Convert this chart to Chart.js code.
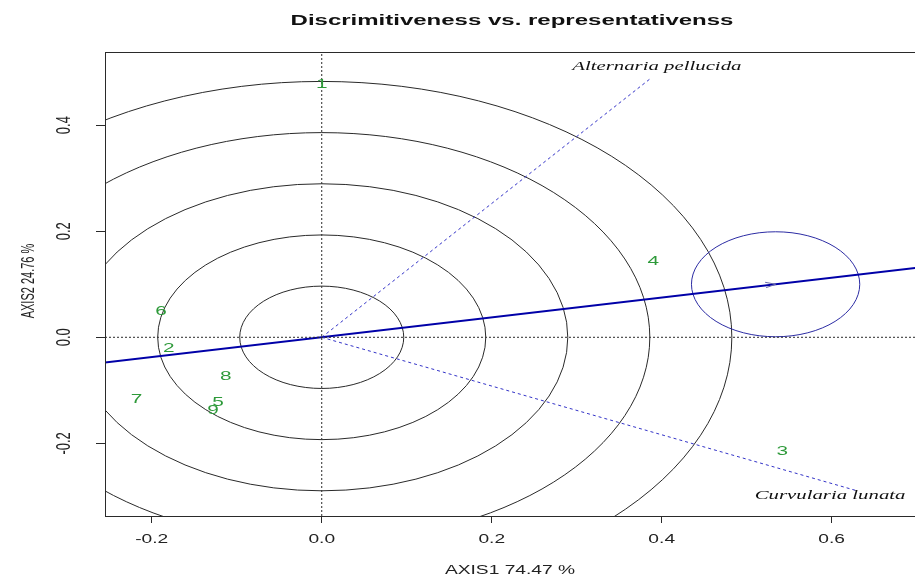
<!DOCTYPE html>
<html>
<head>
<meta charset="utf-8">
<script src="https://cdn.jsdelivr.net/npm/chart.js@4.4.1/dist/chart.umd.min.js"></script>
<style>
  html, body { margin: 0; padding: 0; background: #ffffff; }
  canvas { display: block; }
</style>
</head>
<body>
<canvas id="biplot" width="915" height="577"></canvas>
<script>
// ---------------- data ----------------
const genotypeLabels = ["1", "2", "3", "4", "5", "6", "7", "8", "9"];
const genotypeX = [0.000, -0.180, 0.542, 0.390, -0.122, -0.189, -0.218, -0.113, -0.128];
const genotypeY = [0.476, -0.021, -0.216, 0.143, -0.123, 0.048, -0.118, -0.073, -0.137];

const envNames = ["Alternaria pellucida", "Curvularia lunata"];
const envX = [0.386, 0.631];
const envY = [0.487, -0.290];

// average environment (arrow on the AEA line) and its circle
const avgEnv = [0.534, 0.100];
const avgCircleRadius = 0.099;

// concentric circles around the origin
const circleRadii = [0.0965, 0.193, 0.2895, 0.386, 0.4825];

const xTicks = [-0.2, 0.0, 0.2, 0.4, 0.6];
const yTicks = [-0.2, 0.0, 0.2, 0.4];
const xRange = [-0.255, 0.698];
const yRange = [-0.337, 0.538];

const titleText = "Discrimitiveness vs. representativenss";
const xTitle = "AXIS1 74.47 %";
const yTitle = "AXIS2 24.76 %";

// ---------------- styles ----------------
const STRETCH = 1.6;           // the picture is stretched horizontally
const SANS = '"Liberation Sans", Arial, sans-serif';
const SERIF = '"Liberation Serif", "Times New Roman", serif';
const GREEN = "#2e9a3a";
const ENV_BLUE = "#3434c8";
const AEA_BLUE = "#0000a8";
const INK = "#2a2a2a";

function stretchedText(ctx, text, x, y, opts) {
    ctx.save();
    ctx.translate(x, y);
    ctx.scale(STRETCH, 1);
    if (opts.rotate) ctx.rotate(opts.rotate);
    ctx.font = opts.font;
    ctx.fillStyle = opts.color || "#000";
    ctx.textAlign = "center";
    ctx.textBaseline = "middle";
    ctx.fillText(text, 0, 0);
    ctx.restore();
}

const genotypePoints = genotypeX.map((x, i) => ({ x: x, y: genotypeY[i] }));

const envDatasets = envNames.map((name, i) => ({
    label: name,
    data: [{ x: 0, y: 0 }, { x: envX[i], y: envY[i] }],
    showLine: true,
    borderColor: ENV_BLUE,
    borderWidth: 1,
    borderDash: [3, 3],
    pointRadius: 0
}));

// AEA line: through origin and the average environment, both directions
const aeaLine = [-1, 1.6].map(t => ({ x: avgEnv[0] * t, y: avgEnv[1] * t }));

const biplotPlugin = {
    id: "biplotExtras",
    beforeDraw(chart) {
        const ctx = chart.ctx;
        ctx.save();
        ctx.fillStyle = "#ffffff";
        ctx.fillRect(0, 0, chart.width, chart.height);
        ctx.restore();
    },
    beforeDatasetsDraw(chart) {
        const ctx = chart.ctx;
        const xs = chart.scales.x;
        const ys = chart.scales.y;
        const area = chart.chartArea;
        const cx = xs.getPixelForValue(0);
        const cy = ys.getPixelForValue(0);

        ctx.save();
        ctx.beginPath();
        ctx.rect(area.left, area.top, area.right - area.left, area.bottom - area.top);
        ctx.clip();

        ctx.strokeStyle = INK;
        ctx.lineWidth = 1;
        circleRadii.forEach(r => {
            const rx = xs.getPixelForValue(r) - cx;
            const ry = cy - ys.getPixelForValue(r);
            ctx.beginPath();
            ctx.ellipse(cx, cy, rx, ry, 0, 0, Math.PI * 2);
            ctx.stroke();
        });

        // circle around the average environment
        const ax = xs.getPixelForValue(avgEnv[0]);
        const ay = ys.getPixelForValue(avgEnv[1]);
        ctx.strokeStyle = "#2c2ca4";
        ctx.beginPath();
        ctx.ellipse(ax, ay,
            xs.getPixelForValue(avgCircleRadius) - cx,
            cy - ys.getPixelForValue(avgCircleRadius),
            0, 0, Math.PI * 2);
        ctx.stroke();
        ctx.restore();
    },
    afterDatasetsDraw(chart) {
        const ctx = chart.ctx;
        const xs = chart.scales.x;
        const ys = chart.scales.y;
        const cx = xs.getPixelForValue(0);
        const cy = ys.getPixelForValue(0);

        // arrow head at the average environment
        const ax = xs.getPixelForValue(avgEnv[0]);
        const ay = ys.getPixelForValue(avgEnv[1]);
        const ang = Math.atan2(ay - cy, ax - cx);
        ctx.save();
        ctx.strokeStyle = "#6a6aa8";
        ctx.lineWidth = 1;
        ctx.beginPath();
        [-0.42, 0.42].forEach(d => {
            ctx.moveTo(ax, ay);
            ctx.lineTo(ax - 11 * Math.cos(ang + d), ay - 11 * Math.sin(ang + d) * 0.6);
        });
        ctx.stroke();
        ctx.restore();

        // genotype labels
        const meta = chart.getDatasetMeta(chart.data.datasets.length - 1);
        meta.data.forEach((pt, i) => {
            stretchedText(ctx, genotypeLabels[i], pt.x, pt.y, {
                font: "13px " + SANS, color: GREEN
            });
        });

        // environment labels near the vector ends
        const envOffsets = [[7, -12], [-28, 5]];
        envNames.forEach((name, i) => {
            const ex = xs.getPixelForValue(envX[i]) + envOffsets[i][0];
            const ey = ys.getPixelForValue(envY[i]) + envOffsets[i][1];
            stretchedText(ctx, name, ex, ey, {
                font: "italic 13px " + SERIF, color: "#111"
            });
        });
    },
    afterDraw(chart) {
        const ctx = chart.ctx;
        const xs = chart.scales.x;
        const ys = chart.scales.y;
        const area = chart.chartArea;

        // box
        ctx.save();
        ctx.strokeStyle = INK;
        ctx.lineWidth = 1;
        ctx.strokeRect(area.left + 0.5, area.top + 0.5,
            area.right - area.left, area.bottom - area.top);
        ctx.restore();

        // title
        stretchedText(ctx, titleText, 512, 21, {
            font: "bold 15px " + SANS, color: "#111"
        });

        // tick labels from the scales
        xs.ticks.forEach(t => {
            stretchedText(ctx, t.value.toFixed(1), xs.getPixelForValue(t.value), 540, {
                font: "12px " + SANS, color: "#222"
            });
        });
        ys.ticks.forEach(t => {
            stretchedText(ctx, t.value.toFixed(1), 64, ys.getPixelForValue(t.value), {
                font: "13px " + SANS, color: "#222", rotate: -Math.PI / 2
            });
        });

        // axis titles
        stretchedText(ctx, xTitle, (area.left + area.right) / 2, 571, {
            font: "12px " + SANS, color: "#222"
        });
        stretchedText(ctx, yTitle, 29, 281, {
            font: "11px " + SANS, color: "#222", rotate: -Math.PI / 2
        });
    }
};

new Chart(document.getElementById("biplot"), {
    type: "scatter",
    data: {
        datasets: [
            {
                label: "x = 0",
                data: [{ x: 0, y: yRange[0] }, { x: 0, y: yRange[1] }],
                showLine: true,
                borderColor: INK,
                borderWidth: 1,
                borderDash: [2, 2],
                pointRadius: 0
            },
            {
                label: "y = 0",
                data: [{ x: xRange[0], y: 0 }, { x: xRange[1], y: 0 }],
                showLine: true,
                borderColor: INK,
                borderWidth: 1,
                borderDash: [2, 2],
                pointRadius: 0
            },
            ...envDatasets,
            {
                label: "AEA",
                data: aeaLine,
                showLine: true,
                borderColor: AEA_BLUE,
                borderWidth: 2,
                pointRadius: 0
            },
            {
                label: "Genotypes",
                data: genotypePoints,
                pointRadius: 0,
                pointHoverRadius: 0
            }
        ]
    },
    options: {
        responsive: false,
        animation: false,
        events: [],
        layout: {
            padding: { top: 52, left: 96, right: 0, bottom: 54 }
        },
        plugins: {
            legend: { display: false },
            tooltip: { enabled: false },
            title: { display: false }
        },
        scales: {
            x: {
                type: "linear",
                min: xRange[0],
                max: xRange[1],
                afterBuildTicks: (scale) => {
                    scale.ticks = xTicks.map(v => ({ value: v }));
                },
                ticks: { display: false },
                grid: {
                    drawOnChartArea: false,
                    drawTicks: true,
                    tickLength: 7,
                    color: INK
                },
                border: { display: true, color: INK, width: 1 }
            },
            y: {
                type: "linear",
                min: yRange[0],
                max: yRange[1],
                afterBuildTicks: (scale) => {
                    scale.ticks = yTicks.map(v => ({ value: v }));
                },
                ticks: { display: false },
                grid: {
                    drawOnChartArea: false,
                    drawTicks: true,
                    tickLength: 9,
                    color: INK
                },
                border: { display: true, color: INK, width: 1 }
            }
        }
    },
    plugins: [biplotPlugin]
});
</script>
</body>
</html>
